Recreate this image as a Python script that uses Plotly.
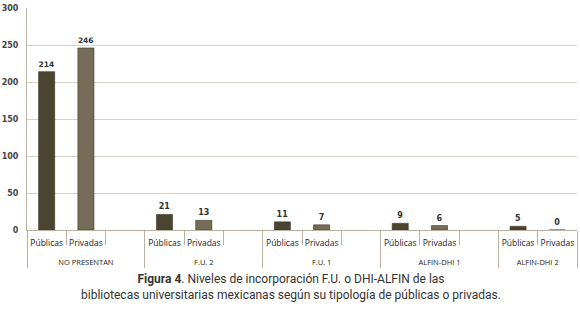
import plotly.graph_objects as go

groups = ["NO PRESENTAN", "F.U. 2", "F.U. 1", "ALFIN-DHI 1", "ALFIN-DHI 2"]
types = ["Públicas", "Privadas"]
publicas = [214, 21, 11, 9, 5]
privadas = [246, 13, 7, 6, 0]
y_ticks = [0, 50, 100, 150, 200, 250, 300]

col_pub = "#4a4430"
col_priv = "#766d58"

lvl1, lvl2, vals, cols, texts = [], [], [], [], []
for i, g in enumerate(groups):
    glab = "<br><span style='font-size:7.5px'>" + g + "</span>"
    for t, v, c in ((types[0], publicas[i], col_pub), (types[1], privadas[i], col_priv)):
        lvl1.append(glab); lvl2.append(t); vals.append(v); cols.append(c); texts.append(str(v))
    if i < len(groups) - 1:
        lvl1.append(glab); lvl2.append(" "); vals.append(None); cols.append(col_pub); texts.append("")

fig = go.Figure(go.Bar(
    x=[lvl1, lvl2], y=vals,
    marker=dict(color=cols, line=dict(color="#3a3526", width=0.6)),
    width=0.41,
    text=texts, textposition="outside", cliponaxis=False,
    textfont=dict(family="DejaVu Sans", size=8, color="#333333", weight="bold"),
    hoverinfo="skip",
))

fig.update_layout(
    width=580, height=309,
    margin=dict(l=27, r=3, t=8, b=79),
    paper_bgcolor="white", plot_bgcolor="white",
    showlegend=False,
    bargap=0.2,
    font=dict(family="Liberation Sans", size=9, color="#333333"),
)
fig.update_yaxes(
    range=[0, 300], tickvals=y_ticks, showgrid=True, gridcolor="#d8d2c2", gridwidth=1,
    zeroline=False, showline=True, linecolor="#b9b2a2", linewidth=1,
    tickfont=dict(family="DejaVu Sans", size=8, color="#444444", weight="bold"),
    ticks="", ticklabelstandoff=6, automargin=False,
)
fig.update_xaxes(
    type="multicategory", showline=True, linecolor="#b9b2a2", linewidth=1,
    ticks="outside", tickson="boundaries", ticklen=14, tickcolor="#b9b2a2",
    showdividers=True, dividercolor="#b9b2a2", dividerwidth=1,
    tickangle=0, automargin=False, ticklabelstandoff=5,
    tickfont=dict(family="Open Sans", size=8.5, color="#222222"),
)
fig.add_annotation(
    xref="paper", yref="paper", x=0.48, y=-0.18, xanchor="center", yanchor="top",
    showarrow=False, align="center",
    text="<b>Figura 4</b>. Niveles de incorporación F.U. o DHI-ALFIN de las<br>bibliotecas universitarias mexicanas según su tipología de públicas o privadas.",
    font=dict(family="Roboto", size=12, color="#333333"),
)
fig.write_html("out.html", config={"displayModeBar": False},
               post_script="document.body.style.margin='0px';")
